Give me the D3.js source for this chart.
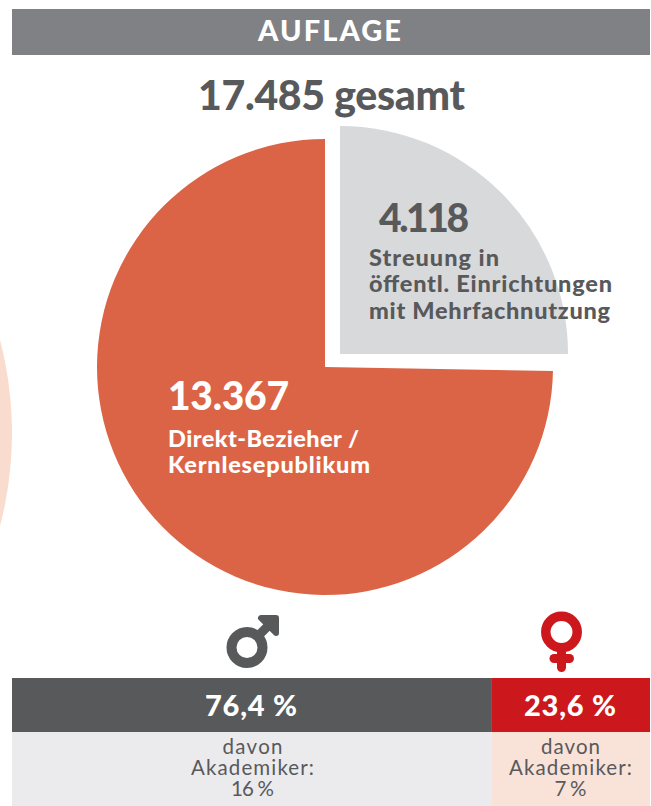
<!DOCTYPE html>
<html lang="de">
<head>
    <meta charset="UTF-8">
    <title>Auflage</title>
    <style>
        html, body { margin: 0; padding: 0; background: #fff; }
        svg { display: block; }
        text { font-family: "Lato", "Open Sans", sans-serif; font-weight: 900; }
        .soft { font-weight: 400; }
    </style>
</head>
<body>
    <svg id="chart" width="651" height="806"></svg>

    <script src="https://d3js.org/d3.v7.min.js"></script>
    <script>
        // --- Data ---
        const pieLabels = ["4.118", "13.367"];
        const pieCaptions = [
            ["Streuung in", "öffentl. Einrichtungen", "mit Mehrfachnutzung"],
            ["Direkt-Bezieher /", "Kernlesepublikum"]
        ];
        // sector angles as drawn in the picture (degrees, clockwise from 12 o'clock)
        const sectorStart = [0, 91];
        const sectorEnd = [90, 360];
        const sectorColors = ["#d8d9db", "#dc6446"];

        const genderLabels = ["76,4 %", "23,6 %"];
        // bar widths as drawn in the picture (share of the full width)
        const barShares = [75.1, 24.9];
        const barColors = ["#58595b", "#cc171d"];
        const lowerColors = ["#ebebee", "#f9e2d8"];
        const academicLines = [
            ["davon", "Akademiker:", "16 %"],
            ["davon", "Akademiker:", "7 %"]
        ];

        const textDark = "#58595b";
        const svg = d3.select("#chart");

        // --- Header ---
        svg.append("rect").attr("x", 12).attr("y", 9).attr("width", 638).attr("height", 46).attr("fill", "#808184");
        svg.append("text").attr("x", 329.5).attr("y", 41).attr("text-anchor", "middle")
            .attr("font-size", 29).attr("textLength", 143).attr("fill", "#fff").text("AUFLAGE");
        svg.append("text").attr("x", 331.5).attr("y", 110).attr("text-anchor", "middle")
            .attr("font-size", 41).attr("textLength", 267).attr("fill", textDark).text("17.485 gesamt");

        // Pale circle cut off by the left edge
        svg.append("circle").attr("cx", -354).attr("cy", 433).attr("r", 366).attr("fill", "#fadccf");

        // --- Pie ---
        const angle = d3.scaleLinear().domain([0, 360]).range([0, 2 * Math.PI]);
        const arc = d3.arc().innerRadius(0).outerRadius(228);
        const sectorCentres = [[340, 354], [325, 367]];

        svg.selectAll(".sector")
            .data(pieLabels)
            .enter()
            .append("path")
            .attr("class", "sector")
            .attr("transform", (d, i) => `translate(${sectorCentres[i]})`)
            .attr("fill", (d, i) => sectorColors[i])
            .attr("d", (d, i) => arc({ startAngle: angle(sectorStart[i]), endAngle: angle(sectorEnd[i]) }));

        // Pie labels (textLength keeps the widths of the original typeface)
        const labelX = [379, 168];
        const labelY = [232, 410];
        const labelWidth = [90, 121];
        const captionX = [369, 168];
        const captionY = [[266, 292, 319], [447, 473]];
        const captionWidth = [[130, 243, 241], [191, 202]];
        const labelFill = [textDark, "#fff"];

        pieLabels.forEach((label, i) => {
            svg.append("text").attr("x", labelX[i]).attr("y", labelY[i])
                .attr("font-size", 39).attr("textLength", labelWidth[i]).attr("fill", labelFill[i]).text(label);
            pieCaptions[i].forEach((line, j) => {
                svg.append("text").attr("x", captionX[i]).attr("y", captionY[i][j])
                    .attr("font-size", 23.5).attr("textLength", captionWidth[i][j]).attr("fill", labelFill[i]).text(line);
            });
        });

        // --- Gender icons ---
        const male = svg.append("g").attr("fill", "none").attr("stroke", textDark);
        male.append("circle").attr("cx", 247).attr("cy", 647.5).attr("r", 15.5).attr("stroke-width", 10);
        male.append("line").attr("x1", 258).attr("y1", 636).attr("x2", 272).attr("y2", 622).attr("stroke-width", 9);
        male.append("path").attr("d", "M261 618H276V633Z").attr("fill", textDark)
            .attr("stroke-width", 6).attr("stroke-linejoin", "round");

        const female = svg.append("g").attr("fill", "none").attr("stroke", barColors[1]);
        female.append("circle").attr("cx", 561.5).attr("cy", 632).attr("r", 15.7).attr("stroke-width", 9.5);
        female.append("line").attr("x1", 561.5).attr("y1", 650).attr("x2", 561.5).attr("y2", 667.5)
            .attr("stroke-width", 9).attr("stroke-linecap", "round");
        female.append("line").attr("x1", 554).attr("y1", 658.5).attr("x2", 569.5).attr("y2", 658.5)
            .attr("stroke-width", 9).attr("stroke-linecap", "round");

        // --- Bars ---
        const x = d3.scaleLinear().domain([0, 100]).range([12, 650]);
        const barStart = d3.cumsum([0, ...barShares]);
        const barCentres = [252.5, 570.5];
        const academicWidth = [[60, 123, 43], [59, 123, 32]];

        genderLabels.forEach((label, i) => {
            svg.append("rect").attr("x", x(barStart[i])).attr("y", 678)
                .attr("width", x(barStart[i + 1]) - x(barStart[i])).attr("height", 54).attr("fill", barColors[i]);
            svg.append("rect").attr("x", x(barStart[i])).attr("y", 732)
                .attr("width", x(barStart[i + 1]) - x(barStart[i])).attr("height", 74).attr("fill", lowerColors[i]);
            svg.append("text").attr("x", i ? 570 : 251).attr("y", 716).attr("text-anchor", "middle")
                .attr("font-size", 29).attr("textLength", 92).attr("fill", "#fff").text(label);
            academicLines[i].forEach((line, j) => {
                svg.append("text").attr("class", "soft").attr("x", barCentres[i]).attr("y", 754 + j * 21)
                    .attr("text-anchor", "middle").attr("font-size", 20.5).attr("textLength", academicWidth[i][j])
                    .attr("fill", textDark).text(line);
            });
        });
    </script>
</body>
</html>
